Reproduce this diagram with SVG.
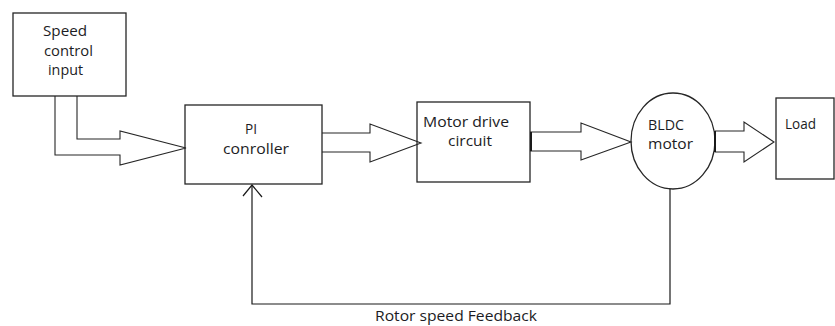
<svg xmlns="http://www.w3.org/2000/svg" width="835" height="326" viewBox="0 0 835 326">
<style>
.box{fill:#fff;stroke:#262626;stroke-width:1.3}
.ln{fill:none;stroke:#1a1a1a;stroke-width:1.2}
.ar{fill:none;stroke:#262626;stroke-width:1.1;stroke-linejoin:miter}
text{font-family:"Open Sans","Liberation Sans",sans-serif;font-size:14px;fill:#1c1c24}
</style>
<rect width="835" height="326" fill="#fff"/>
<g id="speed-input">
<rect class="box" x="13" y="13" width="113" height="83"/>
<text x="43" y="36" textLength="44" lengthAdjust="spacingAndGlyphs">Speed</text>
<text x="44" y="56" textLength="49" lengthAdjust="spacingAndGlyphs">control</text>
<text x="48" y="75" textLength="35" lengthAdjust="spacingAndGlyphs">input</text>
</g>
<g id="pi-controller">
<rect class="box" x="185" y="105" width="137" height="79"/>
<text x="245" y="134" textLength="12" lengthAdjust="spacingAndGlyphs">PI</text>
<text x="223" y="154" textLength="66" lengthAdjust="spacingAndGlyphs">conroller</text>
</g>
<g id="motor-drive">
<rect class="box" x="417" y="102" width="113" height="80"/>
<text x="423" y="127" textLength="86" lengthAdjust="spacingAndGlyphs">Motor drive</text>
<text x="448" y="146" textLength="44" lengthAdjust="spacingAndGlyphs">circuit</text>
</g>
<g id="bldc-motor">
<ellipse class="box" cx="673" cy="141" rx="42" ry="48"/>
<text x="648" y="130" textLength="36" lengthAdjust="spacingAndGlyphs">BLDC</text>
<text x="648" y="149" textLength="45" lengthAdjust="spacingAndGlyphs">motor</text>
</g>
<g id="load">
<rect class="box" x="776" y="98" width="58" height="81"/>
<text x="785" y="129" textLength="31" lengthAdjust="spacingAndGlyphs" font-size="15">Load</text>
</g>
<g id="connectors">
<path class="ar" d="M77,96 V139 H120 V131 L186,148 L120,165 V155 H55 V96"/>
<path class="ar" d="M322,133 H370 V124 L421,143 L370,162 V152 H322"/>
<path class="ar" d="M530,132 H581 V123 L631,142 L581,160 V151 H530"/>
<line x1="531" y1="132" x2="531" y2="151" stroke="#1a1a1a" stroke-width="2"/>
<path class="ar" d="M715,131 H744 V122 L774,142 L744,162 V152 H715"/>
<line x1="715" y1="131" x2="715" y2="152" stroke="#1a1a1a" stroke-width="2"/>
<polyline class="ln" points="670,189 670,304 252,304 252,185"/>
<polyline class="ln" points="243,196 252,185 262,197"/>
<text x="375" y="321" textLength="162" lengthAdjust="spacingAndGlyphs">Rotor speed Feedback</text>
</g>
</svg>
